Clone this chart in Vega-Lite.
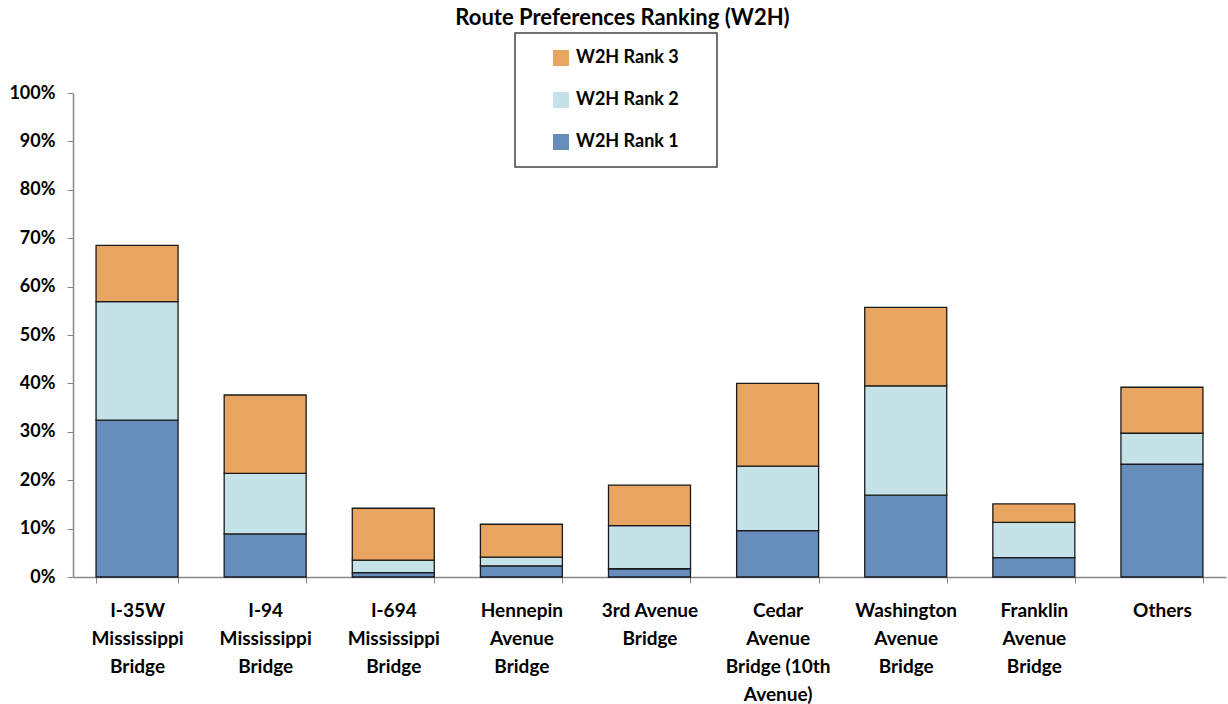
{
  "$schema": "https://vega.github.io/schema/vega-lite/v6.json",
  "width": 1153,
  "height": 484,
  "autosize": {"type": "none"},
  "padding": {"left": 73, "top": 93, "right": 2, "bottom": 127},
  "background": "white",
  "title": {
    "text": "Route Preferences Ranking (W2H)",
    "font": "Lato",
    "fontSize": 22,
    "fontWeight": "bold",
    "color": "#000000",
    "anchor": "middle",
    "dx": -27,
    "offset": 2
  },
  "data": {
    "values": [
      {"route": "I-35W|Mississippi|Bridge", "series": "W2H Rank 1", "rank": 1, "share": 0.324},
      {"route": "I-35W|Mississippi|Bridge", "series": "W2H Rank 2", "rank": 2, "share": 0.245},
      {"route": "I-35W|Mississippi|Bridge", "series": "W2H Rank 3", "rank": 3, "share": 0.116},
      {"route": "I-94|Mississippi|Bridge", "series": "W2H Rank 1", "rank": 1, "share": 0.089},
      {"route": "I-94|Mississippi|Bridge", "series": "W2H Rank 2", "rank": 2, "share": 0.125},
      {"route": "I-94|Mississippi|Bridge", "series": "W2H Rank 3", "rank": 3, "share": 0.162},
      {"route": "I-694|Mississippi|Bridge", "series": "W2H Rank 1", "rank": 1, "share": 0.009},
      {"route": "I-694|Mississippi|Bridge", "series": "W2H Rank 2", "rank": 2, "share": 0.026},
      {"route": "I-694|Mississippi|Bridge", "series": "W2H Rank 3", "rank": 3, "share": 0.107},
      {"route": "Hennepin|Avenue|Bridge", "series": "W2H Rank 1", "rank": 1, "share": 0.023},
      {"route": "Hennepin|Avenue|Bridge", "series": "W2H Rank 2", "rank": 2, "share": 0.018},
      {"route": "Hennepin|Avenue|Bridge", "series": "W2H Rank 3", "rank": 3, "share": 0.068},
      {"route": "3rd Avenue|Bridge", "series": "W2H Rank 1", "rank": 1, "share": 0.017},
      {"route": "3rd Avenue|Bridge", "series": "W2H Rank 2", "rank": 2, "share": 0.089},
      {"route": "3rd Avenue|Bridge", "series": "W2H Rank 3", "rank": 3, "share": 0.084},
      {"route": "Cedar|Avenue|Bridge (10th|Avenue)", "series": "W2H Rank 1", "rank": 1, "share": 0.096},
      {"route": "Cedar|Avenue|Bridge (10th|Avenue)", "series": "W2H Rank 2", "rank": 2, "share": 0.133},
      {"route": "Cedar|Avenue|Bridge (10th|Avenue)", "series": "W2H Rank 3", "rank": 3, "share": 0.171},
      {"route": "Washington|Avenue|Bridge", "series": "W2H Rank 1", "rank": 1, "share": 0.169},
      {"route": "Washington|Avenue|Bridge", "series": "W2H Rank 2", "rank": 2, "share": 0.226},
      {"route": "Washington|Avenue|Bridge", "series": "W2H Rank 3", "rank": 3, "share": 0.162},
      {"route": "Franklin|Avenue|Bridge", "series": "W2H Rank 1", "rank": 1, "share": 0.040},
      {"route": "Franklin|Avenue|Bridge", "series": "W2H Rank 2", "rank": 2, "share": 0.073},
      {"route": "Franklin|Avenue|Bridge", "series": "W2H Rank 3", "rank": 3, "share": 0.038},
      {"route": "Others", "series": "W2H Rank 1", "rank": 1, "share": 0.233},
      {"route": "Others", "series": "W2H Rank 2", "rank": 2, "share": 0.064},
      {"route": "Others", "series": "W2H Rank 3", "rank": 3, "share": 0.095}
    ]
  },
  "mark": {"type": "bar", "stroke": "#1a1a1a", "strokeWidth": 1.3},
  "encoding": {
    "x": {
      "field": "route",
      "type": "nominal",
      "sort": null,
      "scale": {"paddingInner": 0.36, "paddingOuter": 0.18},
      "axis": {
        "title": null,
        "labelAngle": 0,
        "labelExpr": "split(datum.label, '|')",
        "labelFont": "Lato",
        "labelFontSize": 19,
        "labelFontWeight": "bold",
        "labelColor": "#000000",
        "labelLineHeight": 28,
        "labelPadding": 18,
        "labelLimit": 200,
        "tickBand": "extent",
        "tickSize": 6,
        "tickColor": "#888888",
        "domainColor": "#888888",
        "domainWidth": 1.5
      }
    },
    "y": {
      "field": "share",
      "type": "quantitative",
      "stack": "zero",
      "scale": {"domain": [0, 1], "nice": false},
      "axis": {
        "title": null,
        "format": ".0%",
        "values": [0, 0.1, 0.2, 0.3, 0.4, 0.5, 0.6, 0.7, 0.8, 0.9, 1],
        "grid": false,
        "labelFont": "Lato",
        "labelFontSize": 18,
        "labelFontWeight": "bold",
        "labelColor": "#000000",
        "labelPadding": 12,
        "tickSize": 6,
        "tickColor": "#888888",
        "domainColor": "#888888",
        "domainWidth": 1.5
      }
    },
    "color": {
      "field": "series",
      "type": "nominal",
      "scale": {
        "domain": ["W2H Rank 1", "W2H Rank 2", "W2H Rank 3"],
        "range": ["#668dbb", "#c6e2e9", "#e8a562"]
      },
      "legend": {
        "title": null,
        "values": ["W2H Rank 3", "W2H Rank 2", "W2H Rank 1"],
        "orient": "none",
        "legendX": 442,
        "legendY": -60,
        "direction": "vertical",
        "symbolType": "square",
        "symbolSize": 256,
        "symbolStrokeWidth": 0,
        "symbolOffset": 21,
        "labelFont": "Lato",
        "labelFontSize": 18,
        "labelFontWeight": "bold",
        "labelColor": "#000000",
        "labelOffset": 6,
        "labelExpr": "datum.label + '\u00a0\u00a0\u2800'",
        "rowPadding": 24,
        "padding": 16
      }
    },
    "order": {"field": "rank", "type": "quantitative"}
  },
  "config": {
    "view": {"stroke": null},
    "font": "Lato",
    "legend": {"strokeColor": "#444444", "strokeWidth": 1.5}
  }
}
